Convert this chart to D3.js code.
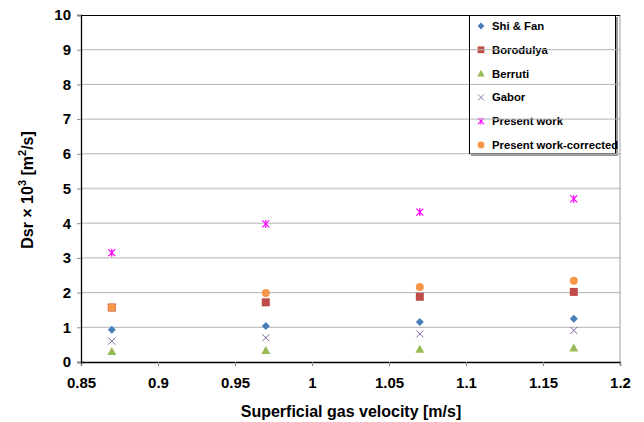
<!DOCTYPE html>
<html>
<head>
<meta charset="utf-8">
<script src="https://cdn.jsdelivr.net/npm/d3@7"></script>
<style>
  body { margin: 0; background: #fff; }
  text { font-family: "Liberation Sans", Arial, sans-serif; font-weight: bold; }
</style>
</head>
<body>
<svg width="644" height="422"></svg>
<script>
// données
const velocities = [0.87, 0.97, 1.07, 1.17];
const shiFan = [0.93, 1.04, 1.15, 1.25];
const borodulya = [1.57, 1.72, 1.88, 2.02];
const berruti = [0.30, 0.33, 0.37, 0.40];
const gabor = [0.60, 0.70, 0.81, 0.91];
const presentWork = [3.15, 3.98, 4.32, 4.70];
const presentCorrected = [1.57, 1.99, 2.16, 2.34];
const seriesNames = ["Shi & Fan", "Borodulya", "Berruti", "Gabor", "Present work", "Present work-corrected"];
const xTicks = [0.85, 0.9, 0.95, 1, 1.05, 1.1, 1.15, 1.2];
const yTicks = [0, 1, 2, 3, 4, 5, 6, 7, 8, 9, 10];

const series = [
  { name: seriesNames[0], values: shiFan, color: "#4a7ebb", shape: "diamond" },
  { name: seriesNames[1], values: borodulya, color: "#be4b48", shape: "square" },
  { name: seriesNames[2], values: berruti, color: "#98b954", shape: "triangle" },
  { name: seriesNames[3], values: gabor, color: "#7d60a0", shape: "cross" },
  { name: seriesNames[4], values: presentWork, color: "#ff00ff", shape: "star" },
  { name: seriesNames[5], values: presentCorrected, color: "#f79646", shape: "circle" }
];

const svg = d3.select("svg");
const mLeft = 81, mRight = 620, mTop = 15, mBottom = 362;

const x = d3.scaleLinear().domain([0.85, 1.2]).range([mLeft, mRight]);
const y = d3.scaleLinear().domain([0, 10]).range([mBottom, mTop]);

// grille horizontale
svg.append("g").selectAll("line")
  .data(yTicks.filter(d => d > 0 && d < 10))
  .enter().append("line")
  .attr("x1", mLeft).attr("x2", mRight)
  .attr("y1", d => y(d)).attr("y2", d => y(d))
  .style("stroke", d => d === 5 ? "#d4d4d4" : "#b4b4b4")
  .style("stroke-width", d => d === 5 ? 2 : 1);

// bordure droite grise
svg.append("line")
  .attr("x1", mRight).attr("x2", mRight).attr("y1", mTop).attr("y2", mBottom)
  .style("stroke", "#a0a0a0");
// bordure haute
svg.append("line")
  .attr("x1", mLeft).attr("x2", mRight).attr("y1", mTop + 0.5).attr("y2", mTop + 0.5)
  .style("stroke", "#000");

// axes
const xAxis = svg.append("g")
  .attr("transform", `translate(0,${mBottom})`)
  .call(d3.axisBottom(x).tickValues(xTicks).tickSize(4).tickFormat(d3.format("")));
const yAxis = svg.append("g")
  .attr("transform", `translate(${mLeft},0)`)
  .call(d3.axisLeft(y).tickValues(yTicks).tickSize(4).tickFormat(d3.format("d")));

[xAxis, yAxis].forEach(a => {
  a.select(".domain").style("stroke", "#000").style("stroke-width", 1.3);
  a.selectAll(".tick line").style("stroke", "#888");
  a.selectAll("text").style("font-size", "15px").style("fill", "#000")
    .style("font-family", "Liberation Sans, Arial, sans-serif").style("font-weight", "bold");
});
xAxis.selectAll("text").attr("y", 0).attr("dy", 0).attr("transform", "translate(0,26)");
yAxis.selectAll("text").attr("x", -10);

// titres des axes
svg.append("text")
  .attr("x", 351).attr("y", 417)
  .attr("text-anchor", "middle")
  .style("font-size", "16px")
  .text("Superficial gas velocity [m/s]");

const yt = svg.append("text")
  .attr("transform", `translate(33,190) rotate(-90)`)
  .attr("text-anchor", "middle")
  .style("font-size", "16px");
yt.append("tspan").text("Dsr × 10");
yt.append("tspan").attr("dy", -7).style("font-size", "11px").text("3");
yt.append("tspan").attr("dy", 7).text(" [m");
yt.append("tspan").attr("dy", -7).style("font-size", "11px").text("2");
yt.append("tspan").attr("dy", 7).text("/s]");

// symboles
function drawMarker(g, shape, color) {
  if (shape === "diamond") {
    g.append("path").attr("d", "M0,-4L4,0L0,4L-4,0Z").style("fill", color);
  } else if (shape === "square") {
    g.append("rect").attr("x", -4).attr("y", -4).attr("width", 8).attr("height", 8).style("fill", color);
  } else if (shape === "triangle") {
    g.append("path").attr("d", "M0,-4.5L4.5,3.5L-4.5,3.5Z").style("fill", color);
  } else if (shape === "cross") {
    g.append("path").attr("d", "M-3.5,-3.5L3.5,3.5M-3.5,3.5L3.5,-3.5")
      .style("stroke", color).style("stroke-width", 1);
  } else if (shape === "star") {
    g.append("path").attr("d", "M-3.5,-3.5L3.5,3.5M-3.5,3.5L3.5,-3.5M0,-4L0,4")
      .style("stroke", color).style("stroke-width", 1.2);
  } else {
    g.append("circle").attr("r", 4).style("fill", color);
  }
}

series.forEach(s => {
  svg.append("g").selectAll("g")
    .data(s.values.map((v, i) => ({ x: velocities[i], y: v })))
    .enter().append("g")
    .attr("transform", d => `translate(${x(d.x)},${y(d.y)})`)
    .each(function () { drawMarker(d3.select(this), s.shape, s.color); });
});

// légende
const lg = svg.append("g");
lg.append("rect")
  .attr("x", 471).attr("y", 17).attr("width", 147).attr("height", 139)
  .style("fill", "#999");
lg.append("rect")
  .attr("x", 469.5).attr("y", 15.5).attr("width", 146).attr("height", 138)
  .style("fill", "#fff").style("stroke", "#000");
series.forEach((s, i) => {
  const row = lg.append("g").attr("transform", `translate(481,${26 + i * 23.8})`);
  drawMarker(row.append("g").attr("transform", "scale(0.85)"), s.shape, s.color);
  row.append("text").attr("x", 11).attr("dy", "0.35em")
    .style("font-size", "11.3px").text(s.name);
});
// les lignes de grille traversent la légende
lg.selectAll(".grid-over")
  .data(yTicks.filter(d => d > 5 && d < 10))
  .enter().append("line")
  .attr("x1", 470).attr("x2", mRight)
  .attr("y1", d => y(d)).attr("y2", d => y(d))
  .style("stroke", "#b4b4b4");
</script>
</body>
</html>
